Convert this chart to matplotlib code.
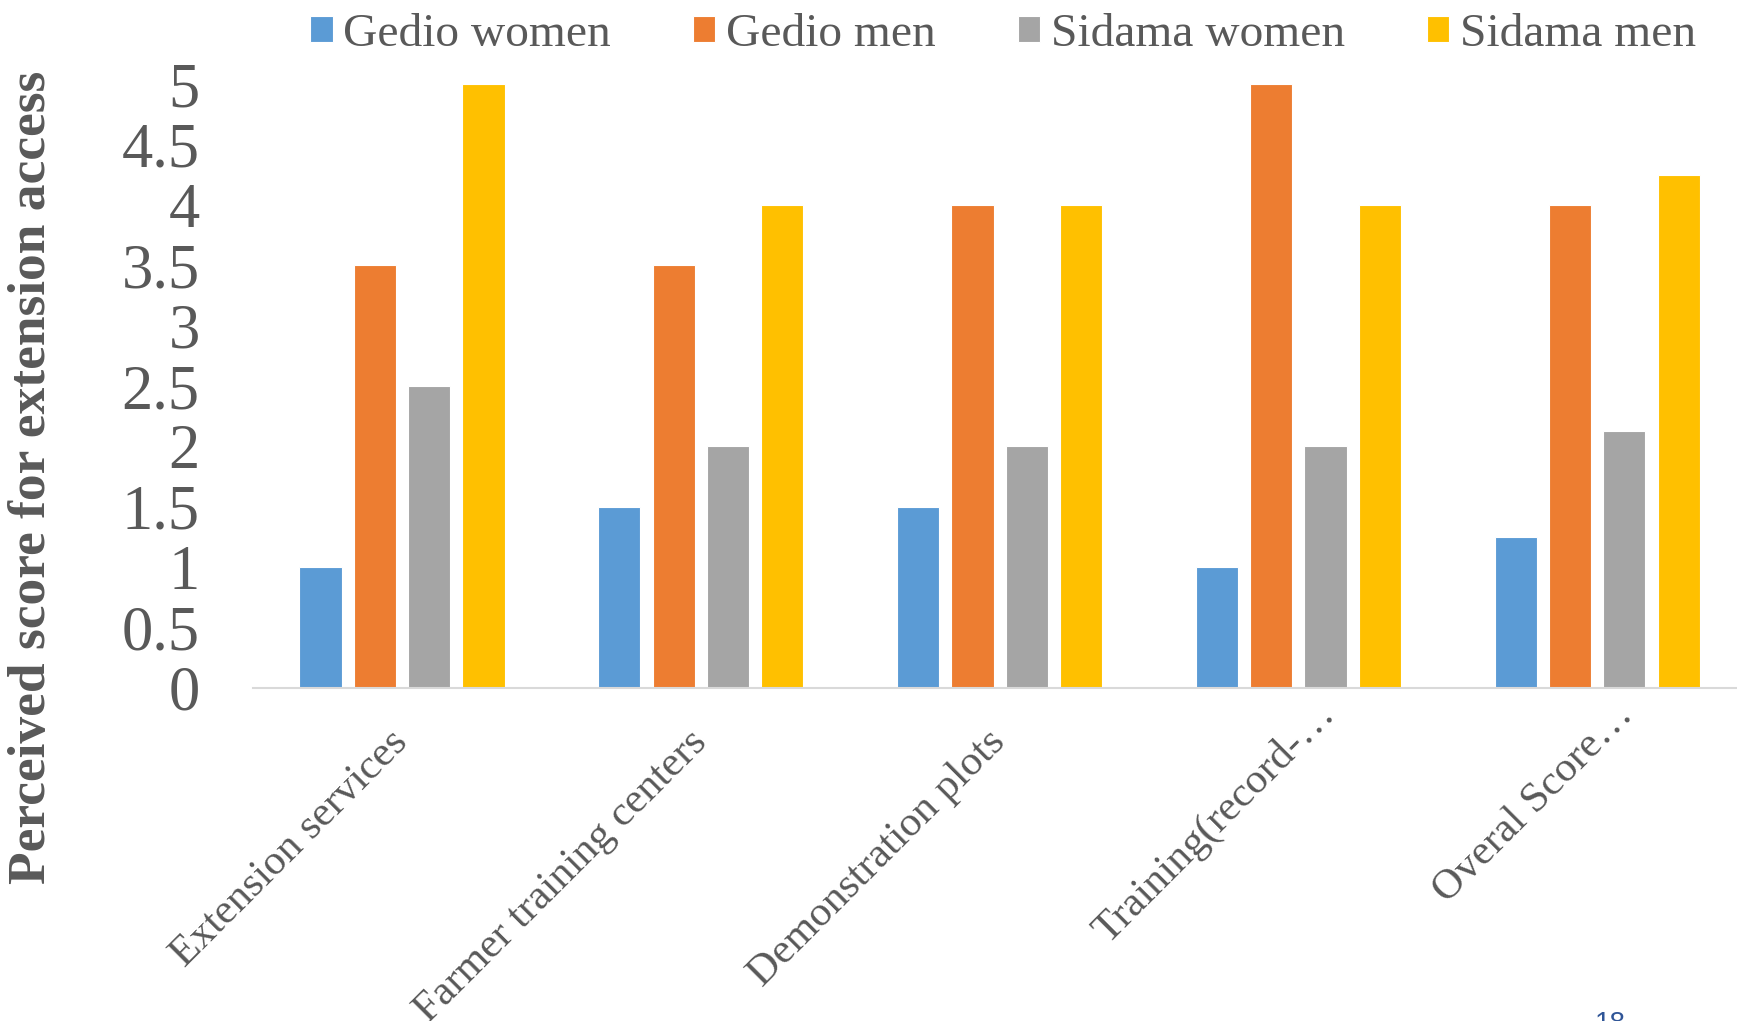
import numpy as np
import matplotlib
matplotlib.use("Agg")
import matplotlib.pyplot as plt
import matplotlib.transforms as mtransforms

plt.rcParams['font.family'] = ['Liberation Serif', 'DejaVu Serif']

# perceived extension-access scores per group
categories = ["Extension services", "Farmer training centers", "Demonstration plots",
              "Training(record-\u2026", "Overal Score\u2026"]
series_names = ["Gedio women", "Gedio men", "Sidama women", "Sidama men"]
gedio_women = [1.0, 1.5, 1.5, 1.0, 1.25]
gedio_men = [3.5, 3.5, 4.0, 5.0, 4.0]
sidama_women = [2.5, 2.0, 2.0, 2.0, 2.125]
sidama_men = [5.0, 4.0, 4.0, 4.0, 4.25]
yticks = [0, 0.5, 1, 1.5, 2, 2.5, 3, 3.5, 4, 4.5, 5]

colors = ["#5B9BD5", "#ED7D31", "#A5A5A5", "#FFC000"]
text_grey = "#595959"

W, H = 1737, 1021
fig = plt.figure(figsize=(W / 100, H / 100), dpi=100)
ax = fig.add_axes([252.6 / W, (H - 688) / H, 1494 / W, 604 / H])

x = np.arange(len(categories))
step = 0.1817
width = 0.141
handles = []
for i, (vals, col) in enumerate(zip([gedio_women, gedio_men, sidama_women, sidama_men], colors)):
    b = ax.bar(x + (i - 1.5) * step, vals, width, color=col, edgecolor="white", linewidth=0.8,
               label=series_names[i])
    handles.append(b)

ax.set_xlim(-0.5, 4.5)
ax.set_ylim(0, 5)
ax.set_yticks(yticks)
ax.set_yticklabels([f"{t:g}" for t in yticks])
ax.tick_params(axis='y', length=0, pad=38, labelsize=45, labelcolor=text_grey)
ax.set_xticks(x)
ax.set_xticklabels(categories, rotation=45, ha='right', va='center', rotation_mode='anchor')
ax.tick_params(axis='x', length=0, pad=35, labelsize=30.5, labelcolor=text_grey)

# truncated labels sit further up along their slant
shift = mtransforms.ScaledTranslation(22 / 72, 20 / 72, fig.dpi_scale_trans)
for lbl in ax.get_xticklabels():
    if lbl.get_text().endswith("\u2026"):
        lbl.set_transform(lbl.get_transform() + shift)

for s in ["top", "right", "left"]:
    ax.spines[s].set_visible(False)
ax.spines["bottom"].set_color("#D9D9D9")
ax.spines["bottom"].set_linewidth(1.5)

fig.text(32 / W, 1 - 477.5 / H, "Perceived score for extension access", rotation=90,
         fontsize=38.5, fontweight='bold', color=text_grey, ha='center', va='center')

fig.legend(handles, series_names, loc='center', bbox_to_anchor=(0.5775, 1 - 35 / H), ncol=4,
           frameon=False, fontsize=34.2, labelcolor=text_grey, handlelength=0.47,
           handleheight=0.47, handletextpad=0.23, columnspacing=1.72, borderpad=0)

# slide number, partly cut by the lower edge
fig.text(1610 / W, 1 - 1011 / H, "18", fontsize=20, color="#2F5597",
         family='Liberation Sans', ha='center', va='top')

fig.savefig("out.png", dpi=100)
